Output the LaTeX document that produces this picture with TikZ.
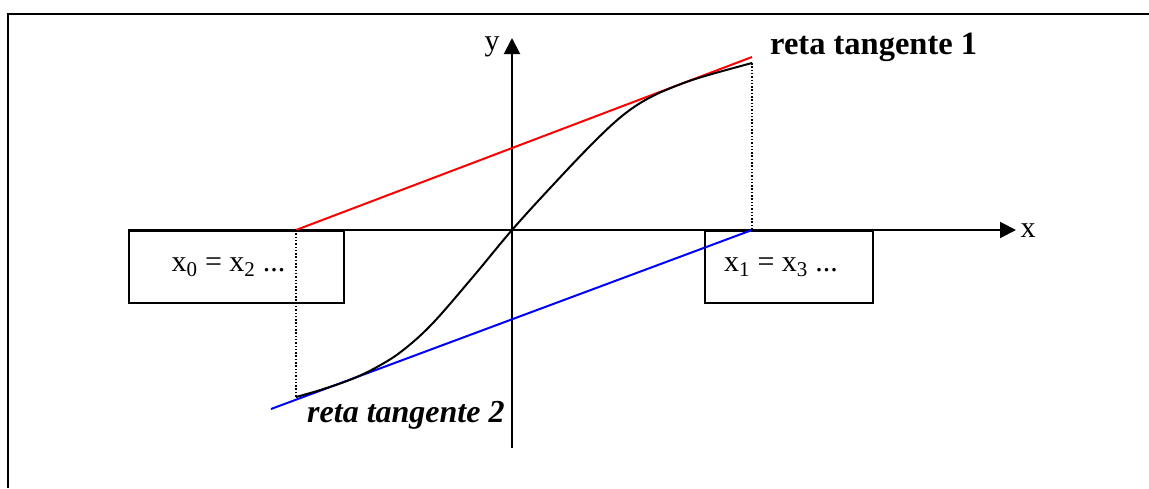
\documentclass[tikz,border=0pt]{standalone}
\usepackage{fontspec}
\setmainfont{Liberation Serif}
\usetikzlibrary{arrows.meta}
\begin{document}
\begin{tikzpicture}[x=1pt,y=-1pt,
  frame/.style={line width=2.8pt},
  axis/.style={line width=2pt,-{Triangle[length=16pt,width=16pt]}},
  box/.style={draw,line width=2pt,anchor=north west,inner sep=0pt,font=\fontsize{30}{36}\selectfont},
  guide/.style={line width=1.3pt,dash pattern=on 1.5pt off 1.8pt},
  lbl/.style={inner sep=0pt,font=\fontsize{30}{36}\selectfont},
  title/.style={inner sep=0pt,anchor=base west,font=\fontsize{32.5}{38}\selectfont\bfseries},
  curve/.style={line width=2pt,line join=round},
  tanA/.style={line width=2pt,red},
  tanB/.style={line width=2pt,blue}]
\useasboundingbox (0,0) rectangle (1149,488);
% frame
\draw[frame] (8,488) -- (8,14) -- (1149,14);
% boxes
\node[box,minimum width=215pt,minimum height=72pt] (b0) at (128,230) {x\textsubscript{0} = x\textsubscript{2} ...\kern16pt\null};
\node[box,minimum width=168pt,minimum height=72pt] (b1) at (704,230) {x\textsubscript{1} = x\textsubscript{3} ...\kern16pt\null};
% axes
\coordinate (O) at (512,230);
\coordinate (xend) at (1016,230);
\coordinate (ybot) at (512,448);
\coordinate (yend) at (512,38);
\draw[axis] (b0.north west) -- (xend);
\draw[axis] (ybot) -- (yend);
\node[lbl] (xl) at (1028,231) {x};
\node[lbl] (yl) at (492,47) {y};
% tangent lines
\coordinate (r0) at (296,230);
\coordinate (r1) at (752,57);
\coordinate (c0) at (271,409);
\coordinate (c1) at (752,230);
\draw[tanA] (r0) -- (r1);
\draw[tanB] (c0) -- (c1);
% curve (points relative to the origin, y upwards)
\coordinate (s0) at (296,397);
\coordinate (s1) at (752,63);
\begin{scope}[shift={(O)},y=1pt]
\draw[curve] plot[smooth,tension=0.6] coordinates {(-216,-167) (-190,-159.5) (-160,-149) (-135,-137) (-110,-121) (-80,-94) (-40,-48) (0,0) (40,44) (80,86) (110,114) (136,131.5) (165,144.5) (193,154) (240,167)};
\end{scope}
% dotted guides
\draw[guide] (r0) -- (s0);
\draw[guide] (s1) -- (c1);
% labels
\node[title] (t1) at (770,54) {reta tangente 1};
\node[title,font=\fontsize{32}{38}\selectfont\bfseries\itshape] (t2) at (307,422) {reta tangente 2};
\end{tikzpicture}
\end{document}
